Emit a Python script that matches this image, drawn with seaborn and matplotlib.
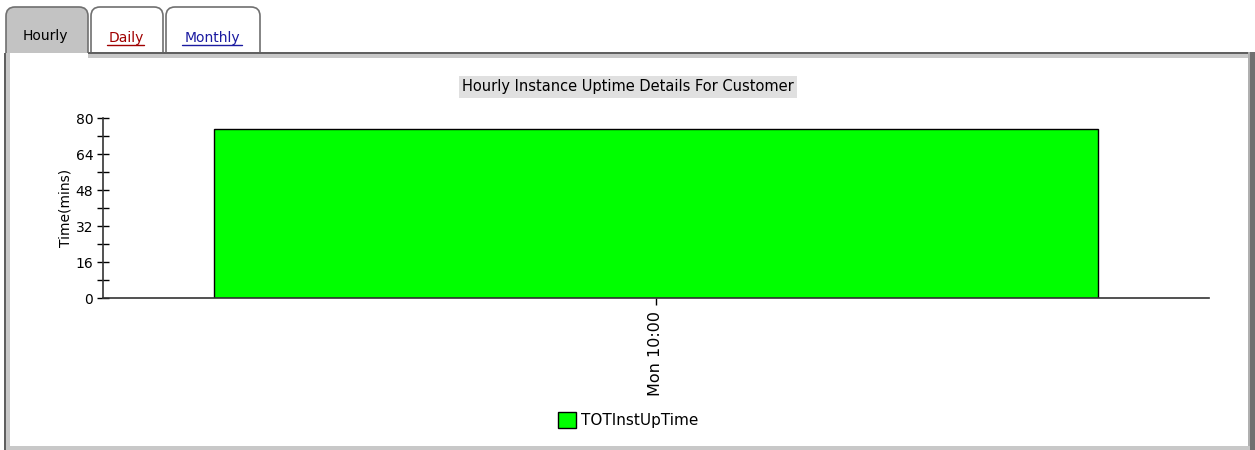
import pandas as pd
import matplotlib.pyplot as plt
import seaborn as sns
from matplotlib.patches import Rectangle, FancyBboxPatch
from matplotlib.ticker import MultipleLocator

# chart data
periods = ["Mon 10:00"]
uptime_mins = [75]
series_name = "TOTInstUpTime"
chart_title = "Hourly Instance Uptime Details For Customer"
tab_names = ["Hourly", "Daily", "Monthly"]


def draw_frame(fig):
    # overlay in pixel coords for the tab panel decoration
    bg = fig.add_axes([0, 0, 1, 1], zorder=-1)
    bg.set_xlim(0, 1255)
    bg.set_ylim(450, 0)
    bg.axis("off")

    # tabs
    tabs = [(6, 88, "#c3c3c3"), (91, 163, "white"), (166, 260, "white")]
    for (x0, x1, fc) in tabs:
        bg.add_patch(FancyBboxPatch((x0, 7), x1 - x0, 56, boxstyle="round,pad=0,rounding_size=9",
                                    fc=fc, ec="#707070", lw=1.2))

    # panel borders
    bg.add_patch(Rectangle((4, 53), 1251, 400, fc="white", ec="none"))
    bg.add_patch(Rectangle((88, 52), 1167, 2, fc="#606060", ec="none"))
    bg.add_patch(Rectangle((88, 54), 1162, 4, fc="#c8c8c8", ec="none"))
    bg.add_patch(Rectangle((4, 53), 2, 400, fc="#606060", ec="none"))
    bg.add_patch(Rectangle((6, 53), 4, 400, fc="#c8c8c8", ec="none"))
    bg.add_patch(Rectangle((1248, 52), 2, 400, fc="#b0b0b0", ec="none"))
    bg.add_patch(Rectangle((1250, 52), 5, 400, fc="#707070", ec="none"))
    bg.add_patch(Rectangle((6, 446), 1244, 4, fc="#c8c8c8", ec="none"))

    # tab labels
    bg.text(45, 36, tab_names[0], ha="center", va="center", fontsize=10, color="black")
    bg.text(126, 38, tab_names[1], ha="center", va="center", fontsize=10, color="#a00000")
    bg.text(212, 38, tab_names[2], ha="center", va="center", fontsize=10, color="#1a1aa0")
    bg.plot([107, 144], [45, 45], color="#a00000", lw=1)
    bg.plot([182, 242], [45, 45], color="#1a1aa0", lw=1)


def make_chart():
    sns.set_style("white")
    plt.rcParams["font.family"] = ["DejaVu Sans"]
    plt.rcParams["text.color"] = "black"
    plt.rcParams["axes.labelcolor"] = "black"
    plt.rcParams["xtick.color"] = "black"
    plt.rcParams["ytick.color"] = "black"

    df = pd.DataFrame({"period": periods, "uptime": uptime_mins})

    fig = plt.figure(figsize=(12.55, 4.5), dpi=100)
    draw_frame(fig)

    ax = fig.add_axes([103 / 1255, 1 - 298 / 450, (1209 - 103) / 1255, 180 / 450])
    sns.barplot(data=df, x="period", y="uptime", color="#00ff00", saturation=1,
                edgecolor="black", linewidth=1, width=0.8, ax=ax)
    ax.patch.set_alpha(0)

    ax.set_xlim(-0.5, 0.5)
    ax.set_ylim(0, 80)
    ax.yaxis.set_major_locator(MultipleLocator(16))
    ax.yaxis.set_minor_locator(MultipleLocator(8))
    ax.tick_params(axis="y", which="major", direction="inout", length=8, width=1,
                   labelsize=10, pad=3, left=True)
    ax.tick_params(axis="y", which="minor", direction="inout", length=8, width=1, left=True)
    ax.tick_params(axis="x", direction="out", length=5, width=1, labelsize=11.5,
                   labelrotation=90, pad=4, bottom=True)

    for side in ["top", "right"]:
        ax.spines[side].set_visible(False)
    for side in ["left", "bottom"]:
        ax.spines[side].set_color("#333333")
        ax.spines[side].set_linewidth(1.2)

    ax.set_xlabel("")
    ax.set_ylabel("Time(mins)", fontsize=10, labelpad=2)

    fig.text(628 / 1255, 1 - 87 / 450, chart_title, ha="center", va="center", fontsize=10.5,
             bbox=dict(fc="#e0e0e0", ec="none", pad=2.5))

    fig.legend(handles=[ax.patches[0]], labels=[series_name], loc="center",
               bbox_to_anchor=(628 / 1255, 1 - 420 / 450), frameon=False, fontsize=11,
               handlelength=1.2, handleheight=1.2, handletextpad=0.3)

    fig.savefig("out.png", dpi=100)
    plt.close(fig)


if __name__ == "__main__":
    make_chart()
